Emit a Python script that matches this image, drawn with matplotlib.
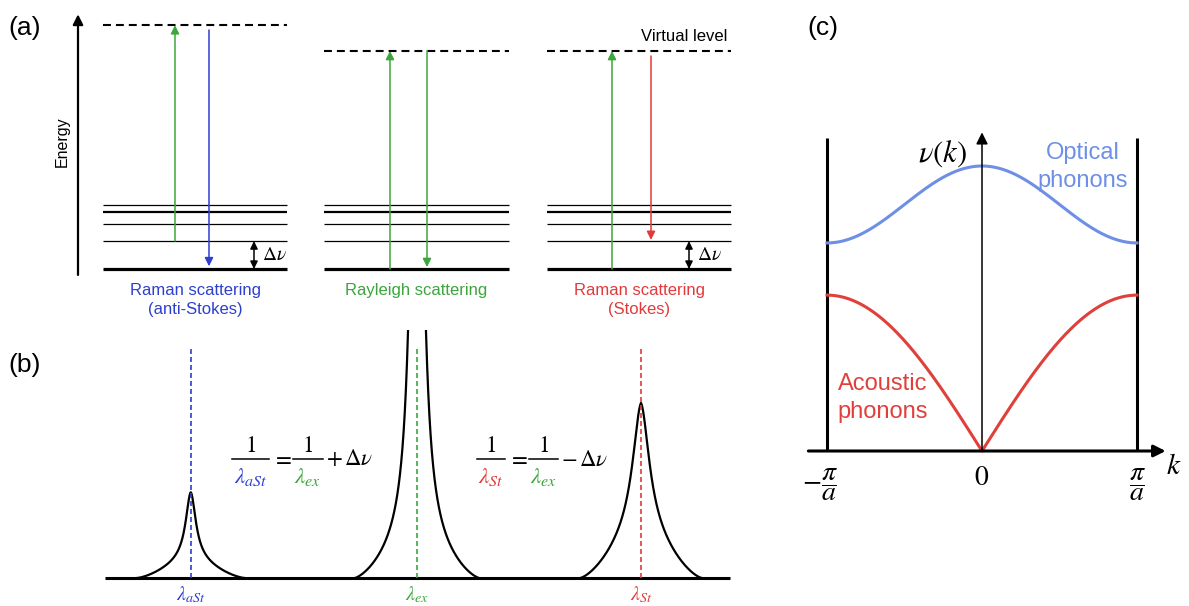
import numpy as np
import matplotlib
matplotlib.use("Agg")
import matplotlib.pyplot as plt

plt.rcParams['font.family'] = ['Liberation Sans', 'DejaVu Sans']
plt.rcParams['mathtext.fontset'] = 'stix'

# ---------------- data ----------------
# (a) energy diagram, energies in units of the vibrational spacing (delta nu)
diagram_names = ['Raman scattering\n(anti-Stokes)', 'Rayleigh scattering', 'Raman scattering\n(Stokes)']
diagram_span = [(103, 287), (324, 509), (547, 731)]   # horizontal extent of each level set
vib_levels = [0.0, 1.0, 1.61, 2.04, 2.29]
vib_lw = [2.3, 0.9, 0.9, 1.6, 0.9]
virtual_levels = [8.71, 7.79, 7.79]
up_x = [175, 390, 612]
up_from = [1.0, 0.0, 0.0]
down_x = [209, 427, 651]
down_from = [8.54, 7.79, 7.61]
down_to = [0.10, 0.07, 1.04]
dnu_x = [254, None, 689]

# (b) spectrum, positions relative to the excitation line
peak_pos = [-10.1, 0.0, 10.0]
peak_height = [0.49, 4.13, 1.0]
peak_gamma = [0.268, 0.268, 0.446]
peak_base = [2.41, 2.77, 2.72]
peak_tail = [0.30, 0.08, 0.40]
peak_labels = [r'$\lambda_{aSt}$', r'$\lambda_{ex}$', r'$\lambda_{St}$']
baseline_range = (-13.93, 13.97)

# (c) phonon dispersion, k in units of pi/a
k = np.linspace(-1, 1, 401)
opt_min, opt_max = 0.73, 1.0
ac_max = 0.547

blue = '#2e3fd0'
green = '#3ca53c'
red = '#e23a3a'
light_blue = '#6d8fe6'
ac_red = '#e0403a'
colors = [blue, green, red]

W, H = 1189, 606
fig = plt.figure(figsize=(W / 100, H / 100), dpi=100)


def px_axes(x0, x1, y0, y1):
    ax = fig.add_axes([x0 / W, 1 - y1 / H, (x1 - x0) / W, (y1 - y0) / H])
    ax.set_axis_off()
    return ax


def arrow(ax, start, end, color, lw, style='-|>,head_length=0.5,head_width=0.25', ms=10):
    ax.annotate('', xy=end, xytext=start,
                arrowprops=dict(arrowstyle=style, color=color, lw=lw,
                                shrinkA=0, shrinkB=0, mutation_scale=ms))


# ---------------- panel (a) ----------------
axa = px_axes(0, 760, 0, 320)
axa.set_xlim(0, 760)
axa.set_ylim(-1.82, 9.61)

arrow(axa, (78, -0.21), (78, 9.1), 'black', 1.6, ms=12)
axa.text(62, 4.54, 'Energy', rotation=90, ha='center', va='center', fontsize=11.5)

for i, (x0, x1) in enumerate(diagram_span):
    for e, lw in zip(vib_levels, vib_lw):
        axa.plot([x0, x1], [e, e], color='black', lw=lw, solid_capstyle='butt')
    axa.plot([x0, x1], [virtual_levels[i]] * 2, color='black', lw=1.5,
             ls=(0, (3.8, 2.4)))
    arrow(axa, (up_x[i], up_from[i]), (up_x[i], virtual_levels[i]), green, 1.1)
    arrow(axa, (down_x[i], down_from[i]), (down_x[i], down_to[i]), colors[i], 1.1)
    if dnu_x[i] is not None:
        arrow(axa, (dnu_x[i], 0.0), (dnu_x[i], 1.0), 'black', 1.1,
              style='<|-|>,head_length=0.45,head_width=0.22', ms=10)
        axa.text(dnu_x[i] + 8, 0.5, r'$\Delta\nu$', ha='left', va='center', fontsize=14)
    axa.text((x0 + x1) / 2, -0.5, diagram_names[i], color=colors[i], ha='center',
             va='top', fontsize=12, linespacing=1.3)

axa.text(684, 8.32, 'Virtual level', ha='center', va='center', fontsize=12)

# ---------------- panel (b) ----------------
axb = px_axes(81, 753, 329.5, 604.25)
axb.set_xlim(-15, 15)
axb.set_ylim(-0.15, 1.42)

axb.plot(baseline_range, [0, 0], color='black', lw=2.2, solid_capstyle='butt')
for x0, h, g, w, c_t, lab, c in zip(peak_pos, peak_height, peak_gamma, peak_base,
                                    peak_tail, peak_labels, colors):
    xs = np.linspace(x0 - w, x0 + w, 801)
    d = np.abs(xs - x0)
    lor = g ** 2 / (d ** 2 + g ** 2)
    edge = g ** 2 / (w ** 2 + g ** 2)
    shape = (1 - c_t) * (lor - edge) / (1 - edge) + c_t * (1 - d / w) ** 1.5
    axb.plot(xs, h * shape, color='black', lw=1.6)
    axb.plot([x0, x0], [0, 1.31], color=c, lw=1.2, ls=(0, (3.0, 1.8)))
    axb.text(x0, -0.095, lab, color=c, ha='center', va='center', fontsize=14.5)


def fraction(ax, x, den, color, half):
    ax.text(x, 0.755, '$1$', ha='center', va='center', fontsize=16.5)
    ax.plot([x - half, x + half], [0.68, 0.68], color='black', lw=1.1)
    ax.text(x, 0.582, den, color=color, ha='center', va='center', fontsize=16.5)


fraction(axb, -7.43, r'$\lambda_{aSt}$', blue, 0.82)
axb.text(-6.05, 0.68, '$=$', ha='center', va='center', fontsize=16.5)
fraction(axb, -4.87, r'$\lambda_{ex}$', green, 0.68)
axb.text(-4.05, 0.68, r'$+\,\Delta\nu$', ha='left', va='center', fontsize=16.5)

fraction(axb, 3.30, r'$\lambda_{St}$', red, 0.64)
axb.text(4.51, 0.68, '$=$', ha='center', va='center', fontsize=16.5)
fraction(axb, 5.66, r'$\lambda_{ex}$', green, 0.64)
axb.text(6.42, 0.68, r'$-\,\Delta\nu$', ha='left', va='center', fontsize=16.5)

# ---------------- panel (c) ----------------
axc = px_axes(788, 1176, 109, 565)
axc.set_xlim(-1.2516, 1.2516)
axc.set_ylim(-0.4, 1.2)

optical = opt_min + (opt_max - opt_min) * (1 + np.cos(np.pi * k)) / 2
acoustic = ac_max * np.abs(np.sin(np.pi * k / 2))

for kb in (-1, 1):
    axc.plot([kb, kb], [0, 1.098], color='black', lw=2.2, solid_capstyle='butt')
arrow(axc, (0, 0), (0, 1.118), 'black', 1.1, ms=14)
arrow(axc, (-1.12, 0), (1.185, 0), 'black', 2.2, ms=14)
axc.plot(k, optical, color=light_blue, lw=2.2)
axc.plot(k, acoustic, color=ac_red, lw=2.2)

axc.text(-0.1, 1.045, r'$\nu(k)$', ha='right', va='center', fontsize=22)
axc.text(0.65, 0.995, 'Optical\nphonons', color=light_blue, ha='center', va='center',
         fontsize=17, linespacing=1.35)
axc.text(-0.64, 0.185, 'Acoustic\nphonons', color=ac_red, ha='center', va='center',
         fontsize=17, linespacing=1.35)
axc.text(-0.93, -0.118, r'$-\dfrac{\pi}{a}$', ha='right', va='center', fontsize=20)
axc.text(0, -0.095, '$0$', ha='center', va='center', fontsize=20)
axc.text(1.0, -0.118, r'$\dfrac{\pi}{a}$', ha='center', va='center', fontsize=20)
axc.text(1.24, -0.053, '$k$', ha='center', va='center', fontsize=21)

# panel letters
fig.text(25 / W, 1 - 28 / H, '(a)', ha='center', va='center', fontsize=19)
fig.text(25 / W, 1 - 365 / H, '(b)', ha='center', va='center', fontsize=19)
fig.text(823 / W, 1 - 28 / H, '(c)', ha='center', va='center', fontsize=19)

fig.savefig('out.png', dpi=100, facecolor='white')
